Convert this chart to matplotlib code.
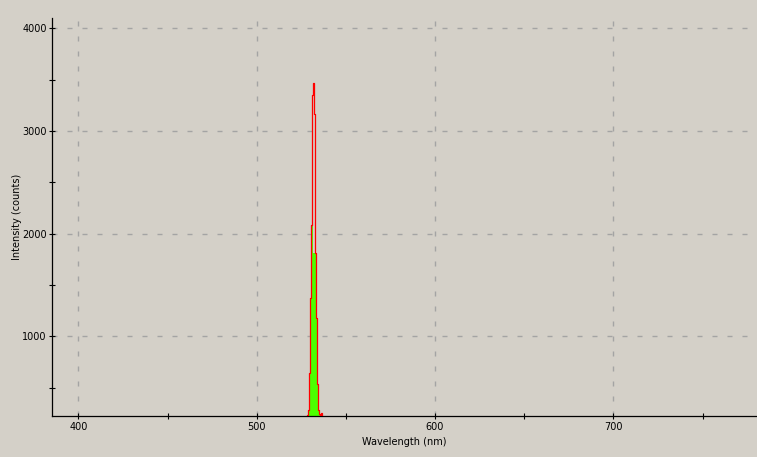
import matplotlib
matplotlib.use("Agg")
import matplotlib.pyplot as plt
from matplotlib.ticker import MultipleLocator

# Data (spectra around the 532 nm line)
wavelength = [527.7, 528.2, 528.8, 529.3, 529.9, 530.5, 531.0, 531.6, 532.1,
              532.7, 533.3, 533.8, 534.4, 534.9, 535.5, 536.1, 536.6]
red_counts = [200, 230, 280, 640, 1370, 2080, 3350, 3465, 3165,
              1810, 1175, 540, 280, 240, 215, 250, 200]
green_counts = [200, 230, 280, 640, 1370, 2080, 2080, 1810, 1810,
                1810, 1175, 540, 280, 240, 215, 230, 200]

x_major = [400, 500, 600, 700]
y_major = [1000, 2000, 3000, 4000]

plt.rcParams['font.family'] = ['DejaVu Sans']
plt.rcParams['lines.scale_dashes'] = False

bg = '#d4d0c8'
fig = plt.figure(figsize=(7.57, 4.57), dpi=100, facecolor=bg)
ax = fig.add_axes([52.3 / 757, 1 - 416 / 457, 1 - 52.3 / 757, (416 - 18.3) / 457])
ax.set_facecolor(bg)

ax.fill_between(wavelength, green_counts, 0, step='post', color='#4cff00', lw=0, zorder=2)
ax.step(wavelength, red_counts, where='post', color='#ff0000', lw=0.9, zorder=3)

ax.set_xlim(385.4, 780.5)
ax.set_ylim(224, 4097)

ax.set_xticks(x_major)
ax.set_yticks(y_major)
ax.xaxis.set_minor_locator(MultipleLocator(50))
ax.yaxis.set_minor_locator(MultipleLocator(500))

ax.grid(True, which='major', color='#a4a4a4', lw=1.0, linestyle=(0, (3.6, 7.2)), zorder=1)

for s in ['top', 'right']:
    ax.spines[s].set_visible(False)
for s in ['left', 'bottom']:
    ax.spines[s].set_color('black')
    ax.spines[s].set_linewidth(0.9)

ax.tick_params(which='both', direction='inout', length=4, width=0.8, color='black',
               labelsize=7, pad=2)
ax.tick_params(which='minor', length=4)

ax.set_xlabel('Wavelength (nm)', fontsize=7, labelpad=4)
ax.set_ylabel('Intensity (counts)', fontsize=7, labelpad=0)

fig.savefig('out.png', dpi=100, facecolor=bg)
